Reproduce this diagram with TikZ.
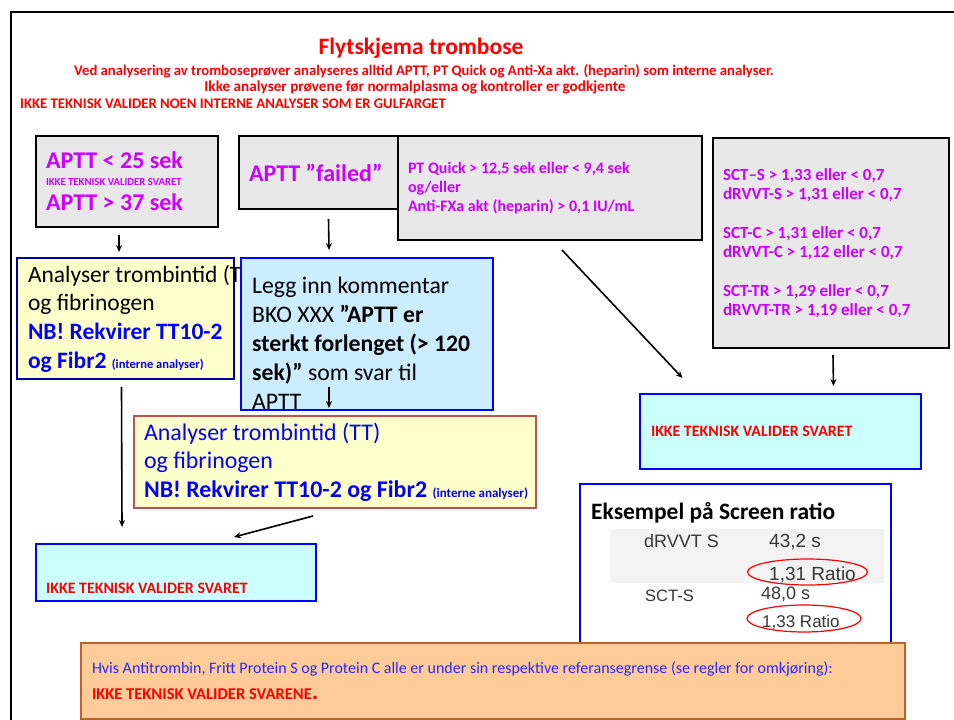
\documentclass[tikz,border=0pt]{standalone}
\usepackage{fontspec}
\setmainfont{Carlito}
\newfontfamily\scanfont{Liberation Sans}
\definecolor{flowRed}{RGB}{255,0,0}
\definecolor{labMagenta}{RGB}{204,0,255}
\definecolor{boxGray}{RGB}{232,232,232}
\definecolor{pastelYellow}{RGB}{255,255,204}
\definecolor{paleBlue}{RGB}{204,236,255}
\definecolor{paleCyan}{RGB}{204,255,255}
\definecolor{paleOrange}{RGB}{255,204,153}
\definecolor{orangeEdge}{RGB}{185,100,45}
\definecolor{brickEdge}{RGB}{192,80,77}
\definecolor{navyEdge}{RGB}{0,0,150}
\definecolor{linkBlue}{RGB}{0,0,255}
\definecolor{noteBlue}{RGB}{40,40,245}
\definecolor{scanGray}{RGB}{55,55,55}
\definecolor{stripGray}{RGB}{243,243,243}
\usetikzlibrary{arrows.meta}

\begin{document}
\begin{tikzpicture}[x=1pt, y=-1pt,
  box/.style={draw, line width=2pt, anchor=north west, inner sep=0pt, outer sep=0pt},
  labbox/.style={box, fill=boxGray, text=labMagenta, align=flush left, inner xsep=10pt},
  hdr/.style={text=flowRed, anchor=base, inner sep=0pt},
  scan/.style={anchor=base west, inner sep=0pt, text=scanGray, font=\scanfont\fontsize{18}{20}\selectfont},
  flow/.style={-{Stealth[length=7pt, width=6pt]}, line width=1.6pt}]
  \useasboundingbox (0,0) rectangle (954,720);
  % frame of the slide
  \draw[line width=2.5pt] (11,720) -- (11,12) -- (954,12);
  % heading
  \node[hdr, font=\bfseries\fontsize{23.5}{26}\selectfont] (title) at (421,54) {Flytskjema trombose};
  \node[hdr, font=\bfseries\fontsize{14.7}{16}\selectfont] (always) at (424,75)
    {Ved analysering av tromboseprøver analyseres alltid APTT, PT Quick og Anti-Xa akt. (heparin) som interne analyser.};
  \node[hdr, font=\bfseries\fontsize{15.2}{16}\selectfont] (ctrl) at (415,91)
    {Ikke analyser prøvene før normalplasma og kontroller er godkjente};
  \node[hdr, anchor=base west, font=\bfseries\fontsize{14.7}{16}\selectfont] (yellowrule) at (20,108)
    {IKKE TEKNISK VALIDER NOEN INTERNE ANALYSER SOM ER GULFARGET};
  % lab results
  \node[labbox, minimum width=182pt, minimum height=91pt, text width=162pt, font=\bfseries\fontsize{24}{25}\selectfont]
    (aptt) at (36,136) {APTT < 25 sek\\ \fontsize{10.7}{17}\selectfont IKKE TEKNISK VALIDER SVARET\\
     \fontsize{24}{25}\selectfont APTT > 37 sek};
  \node[labbox, minimum width=159pt, minimum height=73pt, text width=139pt, font=\bfseries\fontsize{24}{26}\selectfont]
    (failed) at (239,136) {APTT ”failed”};
  \node[labbox, minimum width=304pt, minimum height=104pt, text width=284pt, font=\bfseries\fontsize{16}{19.3}\selectfont]
    (ptq) at (398,136) {PT Quick > 12,5 sek eller < 9,4 sek\\ og/eller\\ Anti-FXa akt (heparin) > 0,1 IU/mL};
  \node[labbox, minimum width=236pt, minimum height=210pt, text width=216pt, font=\bfseries\fontsize{17}{19.3}\selectfont]
    (sct) at (713,138) {SCT--S > 1,33 eller < 0,7\\ dRVVT-S > 1,31 eller < 0,7\\[19.3pt]
     SCT-C > 1,31 eller < 0,7\\ dRVVT-C > 1,12 eller < 0,7\\[19.3pt]
     SCT-TR > 1,29 eller < 0,7\\ dRVVT-TR > 1,19 eller < 0,7};
  % follow-up
  \node[box, draw=navyEdge, fill=pastelYellow, minimum width=217pt, minimum height=121pt, text width=195pt,
    inner xsep=11pt, align=flush left, font=\fontsize{23.5}{28.7}\selectfont] (tt1) at (17,258)
    {\mbox{Analyser trombintid (TT)}\\ og fibrinogen\\ \textcolor{linkBlue}{\bfseries\mbox{NB! Rekvirer TT10-2}}\\
     \textcolor{linkBlue}{\bfseries og Fibr2 {\fontsize{12.5}{14}\selectfont (interne analyser)}}};
  \node[box, draw=linkBlue, fill=paleBlue, minimum width=252pt, minimum height=152pt] (bko) at (241,258) {};
  \node[anchor=north west, inner sep=0pt, text width=245pt, align=flush left, font=\fontsize{23.7}{29}\selectfont]
    (bkotext) at (252,277) {Legg inn kommentar\\ BKO XXX \textbf{”APTT er}\\ \textbf{sterkt forlenget (> 120}\\
     \textbf{sek)”} som svar til\\ APTT};
  \node[box, draw=brickEdge, fill=pastelYellow, minimum width=402pt, minimum height=92pt, text width=382pt,
    inner xsep=10pt, align=flush left, text=linkBlue, font=\fontsize{23.9}{28.5}\selectfont] (tt2) at (134,416)
    {Analyser trombintid (TT)\\ og fibrinogen\\
     \mbox{\bfseries NB! Rekvirer TT10-2 og Fibr2 {\fontsize{13}{14}\selectfont (interne analyser)}}};
  \node[box, draw=linkBlue, fill=paleCyan, minimum width=280pt, minimum height=57pt] (val1) at (36,544) {};
  \node[anchor=base west, inner sep=0pt, text=flowRed, font=\bfseries\fontsize{15.9}{18}\selectfont]
    (val1text) at ([shift={(10,-8)}]val1.south west) {IKKE TEKNISK VALIDER SVARET};
  \node[box, draw=linkBlue, fill=paleCyan, minimum width=281pt, minimum height=75pt, text width=259pt,
    inner xsep=11pt, align=flush left, text=flowRed, font=\bfseries\fontsize{15.9}{18}\selectfont] (val2) at (640,394)
    {IKKE TEKNISK VALIDER SVARET};
  % screen ratio example
  \node[box, draw=linkBlue, line width=2.5pt, fill=white, minimum width=311pt, minimum height=159pt] (ex) at (580,484) {};
  \fill[stripGray] (610,529) rectangle (884,583);
  \node[anchor=base west, inner sep=0pt, font=\bfseries\fontsize{23.5}{26}\selectfont] (extitle) at (591,519)
    {Eksempel på Screen ratio};
  \node[scan] (drvvt) at (644,547) {dRVVT S};
  \node[scan, font=\scanfont\fontsize{19}{20}\selectfont] (drvvtsec) at (769,547) {43,2 s};
  \node[scan, font=\scanfont\fontsize{19}{20}\selectfont] (drvvtratio) at (769,580) {1,31 Ratio};
  \node[scan, font=\scanfont\fontsize{16.5}{20}\selectfont] (sctname) at (645,601) {SCT-S};
  \node[scan] (sctsec) at (761,599) {48,0 s};
  \node[scan, font=\scanfont\fontsize{17}{20}\selectfont] (sctratio) at (762,627) {1,33 Ratio};
  \draw[flowRed, line width=1.2pt] (807.5,572) ellipse [x radius=60pt, y radius=13pt];
  \draw[flowRed, line width=1.2pt] (804,618.5) ellipse [x radius=57pt, y radius=13.5pt];
  % bottom rule
  \node[box, draw=orangeEdge, line width=1.5pt, fill=paleOrange, minimum width=824pt, minimum height=76pt,
    text width=802pt, inner xsep=11pt, align=flush left, font=\fontsize{16}{26}\selectfont] (note) at (81,643)
    {\textcolor{noteBlue}{Hvis Antitrombin, Fritt Protein S og Protein C alle er under sin respektive referansegrense (se regler for omkjøring):}\\
     \textcolor{flowRed}{\bfseries\fontsize{16.5}{26}\selectfont IKKE TEKNISK VALIDER SVARENE{\fontsize{24}{26}\selectfont.}}};
  % arrows
  \draw[flow] ([shift={(-8,8)}]aptt.south) -- ([shift={(-6.5,-6)}]tt1.north);
  \draw[flow] ([shift={(10,10)}]failed.south) -- ([shift={(-38,-8)}]bko.north);
  \draw[flow] ([shift={(-38,-23)}]bko.south) -- ([shift={(-6,-8)}]tt2.north);
  \draw[flow] ([shift={(-4,8)}]tt1.south) -- ([shift={(-54,-17)}]val1.north);
  \draw[flow] ([shift={(-22,8)}]tt2.south) -- ([shift={(58,-7)}]val1.north);
  \draw[flow] ([shift={(12,10)}]ptq.south) -- ([shift={(-98,-16)}]val2.north);
  \draw[flow] ([shift={(2,7)}]sct.south) -- ([shift={(53,-8)}]val2.north);
\end{tikzpicture}
\end{document}
